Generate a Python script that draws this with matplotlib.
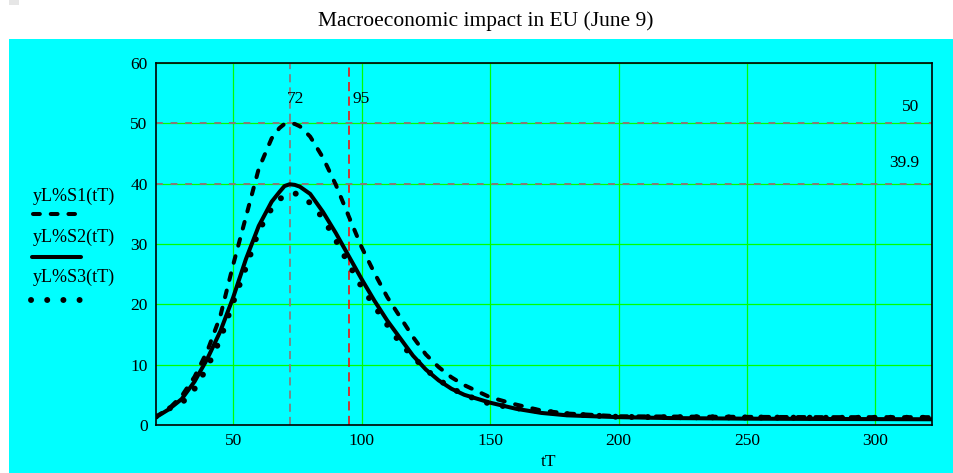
import matplotlib
matplotlib.use("Agg")
from matplotlib import pyplot as plt
from matplotlib.patches import Rectangle

plt.rcParams['font.family'] = ['Liberation Serif', 'DejaVu Serif']

# time axis (tT) and the three scenarios, in percent
tT = [20, 25, 30, 35, 40, 45, 50, 55, 60, 65, 68, 70, 72, 74, 76, 80, 85,
      90, 95, 100, 105, 110, 115, 120, 125, 130, 135, 140, 150, 160, 170,
      180, 200, 220, 250, 280, 322]
S1 = [1.4, 2.7, 4.8, 8.0, 12.3, 18.0, 26.5, 34.5, 42.5, 47.5, 49.2, 49.9,
      50.0, 49.9, 49.5, 47.8, 44.3, 39.8, 34.6, 29.5, 25.2, 21.2, 17.9,
      14.6, 11.7, 9.6, 7.9, 6.6, 4.6, 3.4, 2.4, 1.9, 1.45, 1.4, 1.35, 1.3,
      1.3]
S2 = [1.3, 2.6, 4.3, 7.2, 11.0, 15.5, 21.1, 27.5, 33.0, 37.0, 38.6, 39.6,
      39.9, 39.8, 39.5, 38.3, 35.3, 31.8, 28.0, 24.2, 20.6, 17.3, 14.4,
      11.5, 9.2, 7.4, 6.0, 5.0, 3.7, 2.7, 2.0, 1.6, 1.3, 1.15, 1.05, 1.0,
      0.95]
S3 = [1.4, 2.7, 3.6, 6.0, 9.6, 14.2, 20.3, 26.1, 32.2, 35.9, 37.4, 38.0,
      38.4, 38.4, 38.1, 36.8, 34.3, 30.6, 26.7, 22.9, 19.7, 16.6, 13.6,
      11.3, 9.2, 7.5, 6.1, 5.0, 3.5, 2.8, 2.3, 1.8, 1.35, 1.3, 1.25, 1.2,
      1.2]

peak_t = [72, 95]
peak_y = [50, 39.9]
x_ticks = [50, 100, 150, 200, 250, 300]
y_ticks = [0, 10, 20, 30, 40, 50, 60]
names = ["yL%S1(tT)", "yL%S2(tT)", "yL%S3(tT)"]

W, H = 954, 473
fig = plt.figure(figsize=(W / 100, H / 100), dpi=100)

# background layer in pixel coordinates: panel, title, legend
bg = fig.add_axes([0, 0, 1, 1], zorder=-1)
bg.set_xlim(0, W)
bg.set_ylim(H, 0)
bg.axis("off")
bg.add_patch(Rectangle((9, 39), W - 9, H - 39, color="#00ffff", lw=0))
bg.add_patch(Rectangle((9, 0), 10, 5, color="#e6e6e6", lw=0))
bg.text(486, 21, "Macroeconomic impact in EU (June 9)", ha="center",
        va="center", fontsize=15.5)

dash_style = dict(color="black", lw=2.9, linestyle=(0, (1.7, 2.7)),
                  dash_capstyle="round", solid_capstyle="round")
solid_style = dict(color="black", lw=2.9, solid_capstyle="round")
dot_style = dict(color="black", lw=4.3, linestyle=(0, (0.01, 2.7)),
                 dash_capstyle="round")

bg.text(33, 196, names[0], va="center", fontsize=13)
bg.plot([33, 75], [214, 214], **dash_style)
bg.text(33, 237, names[1], va="center", fontsize=13)
bg.plot([32, 81], [257, 257], **solid_style)
bg.text(33, 277, names[2], va="center", fontsize=13)
bg.plot([31, 80], [300, 300], **dot_style)
bg.text(549, 454, "tT", ha="center", va="top", fontsize=12.5)

left, right, top, bottom = 156, 932, 63, 425
ax = fig.add_axes([left / W, (H - bottom) / H, (right - left) / W,
                   (bottom - top) / H])
ax.set_facecolor("none")
ax.set_xlim(20, 322)
ax.set_ylim(0, 60)
ax.set_xticks(x_ticks)
ax.set_yticks(y_ticks)
ax.tick_params(length=0, labelsize=12.5, pad=6)
for s in ax.spines.values():
    s.set_linewidth(1.2)
ax.grid(True, color="#00ff00", lw=0.9)
ax.set_axisbelow(True)

# markers for the peak of S1 and the end of the lockdown
ax.axvline(peak_t[0], color="#808080", lw=1.3, linestyle=(0, (4.5, 2.8)), zorder=1.5)
ax.axvline(peak_t[1], color="#ff0000", lw=1.1, linestyle=(0, (6, 3.5)), zorder=1.5)
for v in peak_y:
    ax.axhline(v, color="#887878", lw=1.4, linestyle=(0, (3.5, 4)), zorder=1.5)
ax.text(peak_t[0] + 2.2, 54, str(peak_t[0]), ha="center", va="center", fontsize=12.5)
ax.text(peak_t[1] + 1.3, 54, str(peak_t[1]), ha="left", va="center", fontsize=12.5)
ax.text(317, peak_y[0] + 2.7, str(peak_y[0]), ha="right", va="center", fontsize=12.5)
ax.text(317, peak_y[1] + 3.6, str(peak_y[1]), ha="right", va="center", fontsize=12.5)

ax.plot(tT, S1, **dash_style, zorder=3)
ax.plot(tT, S2, **solid_style, zorder=3)
ax.plot(tT, S3, **dot_style, zorder=3)

fig.savefig("out.png", dpi=100)
